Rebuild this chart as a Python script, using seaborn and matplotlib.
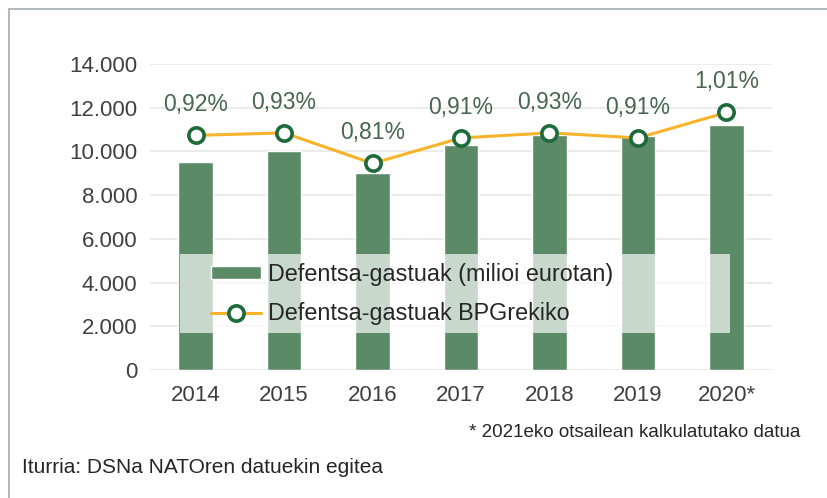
import matplotlib
matplotlib.use("Agg")
import matplotlib.pyplot as plt
from matplotlib.lines import Line2D
from matplotlib.patches import Rectangle
import seaborn as sns
import pandas as pd

years = ["2014", "2015", "2016", "2017", "2018", "2019", "2020*"]
spending = [9500, 10000, 9000, 10300, 10750, 10700, 11200]
gdp_share = [0.92, 0.93, 0.81, 0.91, 0.93, 0.91, 1.01]
yticks = [0, 2000, 4000, 6000, 8000, 10000, 12000, 14000]

bar_label = "Defentsa-gastuak (milioi eurotan)"
line_label = "Defentsa-gastuak BPGrekiko"
note = "* 2021eko otsailean kalkulatutako datua"
source = "Iturria: DSNa NATOren datuekin egitea"

GREEN = "#5b8a67"
DARK_GREEN = "#1d6a3a"
ORANGE = "#f6b32b"
TEXT = "#404040"

sns.set_style("white")
plt.rcParams["font.family"] = ["Liberation Sans", "DejaVu Sans"]

df = pd.DataFrame({"year": years, "spending": spending, "pct": gdp_share})

fig = plt.figure(figsize=(8.27, 4.98), dpi=100)
ax = fig.add_axes([150 / 827, 1 - 370 / 498, 622 / 827, 306 / 498])

sns.barplot(data=df, x="year", y="spending", color=GREEN, saturation=1,
            width=0.39, ax=ax, zorder=2)
ax.set_ylim(0, 14000)
ax.set_yticks(yticks)
ax.set_yticklabels([f"{v:,}".replace(",", ".") for v in yticks])
ax.grid(axis="y", color="#e9e9e9", lw=1.3)
ax.set_axisbelow(True)
ax.tick_params(axis="both", length=0, labelsize=16, labelcolor=TEXT)
ax.tick_params(axis="y", pad=9)
ax.tick_params(axis="x", pad=11)
ax.set_xlabel("")
ax.set_ylabel("")
sns.despine(ax=ax, left=True, bottom=True)

ax2 = ax.twinx()
sns.lineplot(data=df, x="year", y="pct", ax=ax2, color=ORANGE, lw=2.2,
             marker="o", markersize=11, markerfacecolor="white",
             markeredgecolor=DARK_GREEN, markeredgewidth=2.6, sort=False)
ax2.set_ylim(0, 1.2)
ax2.set_yticks([])
ax2.set_ylabel("")
ax2.set_xlabel("")
for s in ax2.spines.values():
    s.set_visible(False)

for i, v in enumerate(gdp_share):
    ax2.annotate(f"{v:.2f}%".replace(".", ","), (i, v), xytext=(0, 22),
                 textcoords="offset points", ha="center", va="center",
                 fontsize=16.5, color="#46664f")

# legend background box (semi transparent over the bars)
ax2.add_patch(Rectangle((0.048, 0.121), 0.884, 0.258, transform=ax2.transAxes,
                        facecolor="white", alpha=0.67, edgecolor="none", zorder=3))
handles = [ax.containers[0], ax2.lines[0]]
leg = ax2.legend(handles, [bar_label, line_label], loc="upper left",
                 bbox_to_anchor=(0.098, 0.350), frameon=False, fontsize=16.8,
                 handlelength=2.15, handletextpad=0.3, labelspacing=0.71,
                 handleheight=0.5, borderpad=0, borderaxespad=0)
leg.set_zorder(5)
for t in leg.get_texts():
    t.set_color("#262626")

fig.text(800 / 827, 1 - 432 / 498, note, ha="right", va="center",
         fontsize=13.5, color="#262626")
fig.text(22 / 827, 1 - 467 / 498, source, ha="left", va="center",
         fontsize=15, color="#262626")

# frame of the picture (top and left edges only visible)
fig.add_artist(Line2D([9 / 827, 1], [1 - 9 / 498] * 2, color="#aab2bb", lw=1.3))
fig.add_artist(Line2D([9 / 827] * 2, [0, 1 - 9 / 498], color="#aab2bb", lw=1.3))

fig.savefig("out.png", dpi=100)
